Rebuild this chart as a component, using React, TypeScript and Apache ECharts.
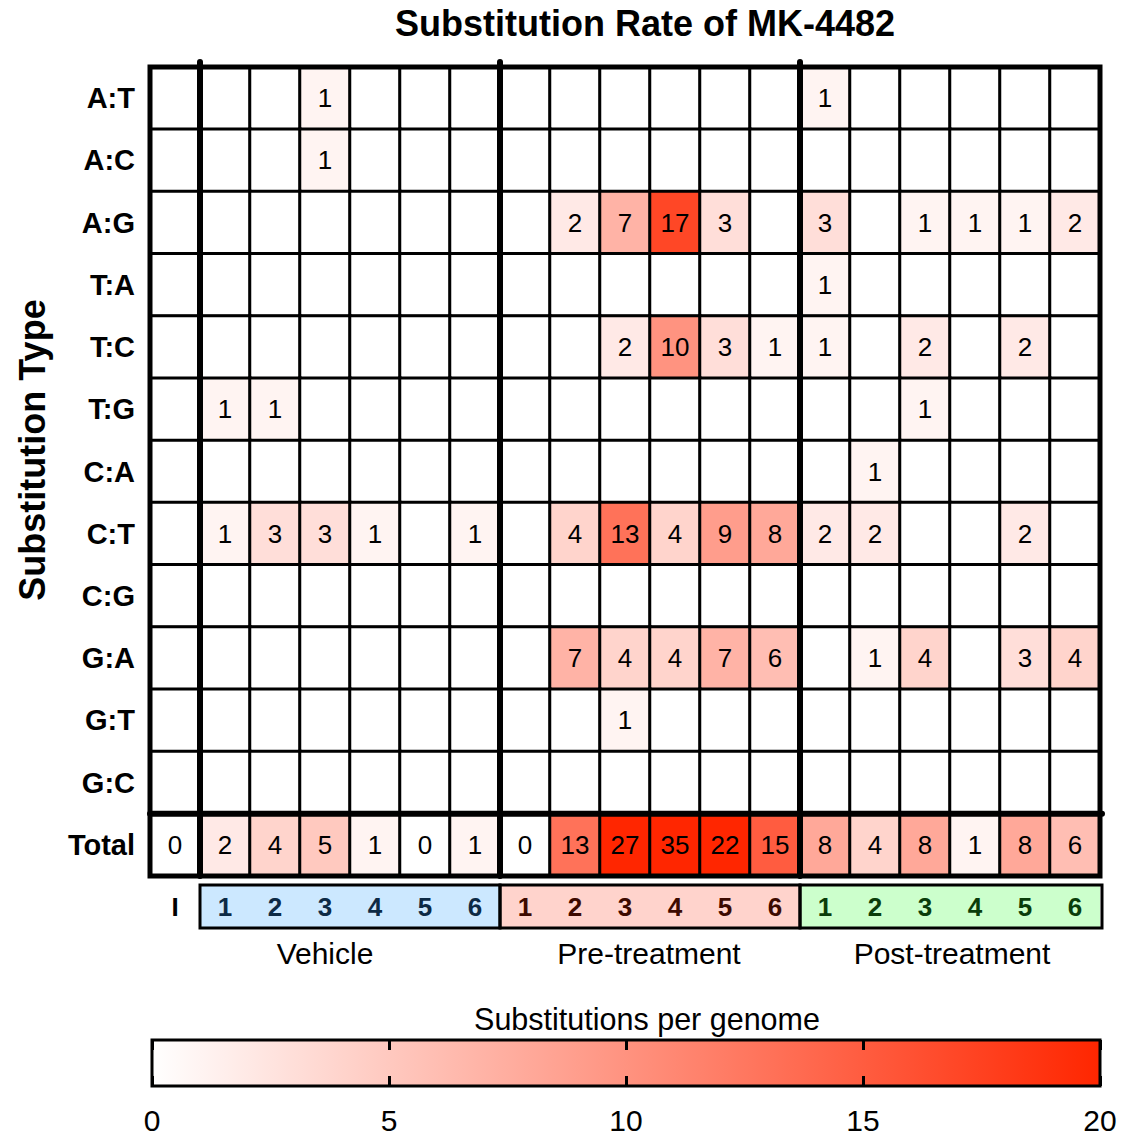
import React, { useEffect, useRef } from "react";
import * as echarts from "echarts";

const COLUMNS = ["I", "V1", "V2", "V3", "V4", "V5", "V6", "P1", "P2", "P3", "P4", "P5", "P6", "O1", "O2", "O3", "O4", "O5", "O6"];
const COLUMN_LABELS = ["I", "1", "2", "3", "4", "5", "6", "1", "2", "3", "4", "5", "6", "1", "2", "3", "4", "5", "6"];
const ROWS = ["A:T", "A:C", "A:G", "T:A", "T:C", "T:G", "C:A", "C:T", "C:G", "G:A", "G:T", "G:C", "Total"];

const AT = [0, 0, 0, 1, 0, 0, 0, 0, 0, 0, 0, 0, 0, 1, 0, 0, 0, 0, 0];
const AC = [0, 0, 0, 1, 0, 0, 0, 0, 0, 0, 0, 0, 0, 0, 0, 0, 0, 0, 0];
const AG = [0, 0, 0, 0, 0, 0, 0, 0, 2, 7, 17, 3, 0, 3, 0, 1, 1, 1, 2];
const TA = [0, 0, 0, 0, 0, 0, 0, 0, 0, 0, 0, 0, 0, 1, 0, 0, 0, 0, 0];
const TC = [0, 0, 0, 0, 0, 0, 0, 0, 0, 2, 10, 3, 1, 1, 0, 2, 0, 2, 0];
const TG = [0, 1, 1, 0, 0, 0, 0, 0, 0, 0, 0, 0, 0, 0, 0, 1, 0, 0, 0];
const CA = [0, 0, 0, 0, 0, 0, 0, 0, 0, 0, 0, 0, 0, 0, 1, 0, 0, 0, 0];
const CT = [0, 1, 3, 3, 1, 0, 1, 0, 4, 13, 4, 9, 8, 2, 2, 0, 0, 2, 0];
const CG = [0, 0, 0, 0, 0, 0, 0, 0, 0, 0, 0, 0, 0, 0, 0, 0, 0, 0, 0];
const GA = [0, 0, 0, 0, 0, 0, 0, 0, 7, 4, 4, 7, 6, 0, 1, 4, 0, 3, 4];
const GT = [0, 0, 0, 0, 0, 0, 0, 0, 0, 1, 0, 0, 0, 0, 0, 0, 0, 0, 0];
const GC = [0, 0, 0, 0, 0, 0, 0, 0, 0, 0, 0, 0, 0, 0, 0, 0, 0, 0, 0];
const TOTAL = [0, 2, 4, 5, 1, 0, 1, 0, 13, 27, 35, 22, 15, 8, 4, 8, 1, 8, 6];

const MATRIX = [AT, AC, AG, TA, TC, TG, CA, CT, CG, GA, GT, GC, TOTAL];

const GROUPS = ["Vehicle", "Pre-treatment", "Post-treatment"];
const GROUP_BG = ["#cce8ff", "#ffd3cc", "#ccffcc"];
const GROUP_FG = ["#0d2a45", "#3d0a00", "#0a3d0a"];

const CB_MIN = 0;
const CB_MAX = 20;
const CB_TITLE = "Substitutions per genome";
const TITLE = "Substitution Rate of MK-4482";
const Y_NAME = "Substitution Type";

const FONT = "'Liberation Sans', Arial, Helvetica, sans-serif";

// layout
const W = 1122;
const H = 1138;
const GL = 150;
const GT_ = 67;
const GW = 950;
const GH = 809;
const colW = GW / COLUMNS.length;
const rowH = GH / ROWS.length;
const GROUP_TEXT_X = [325, 649, 952];

export default function App() {
  const ref = useRef<HTMLDivElement>(null);
  useEffect(() => {
    document.body.style.margin = "0";
    if (!ref.current) return;
    const chart = echarts.init(ref.current, null, { renderer: "svg" });

    const heatData: any[] = [];
    MATRIX.forEach((row, ri) => {
      row.forEach((v, ci) => heatData.push([ci, ri, v]));
    });

    const labelBars = COLUMN_LABELS.map((lab, i) => {
      const g = i === 0 ? -1 : Math.floor((i - 1) / 6);
      return {
        value: 1,
        name: lab,
        itemStyle: { color: g < 0 ? "rgba(0,0,0,0)" : GROUP_BG[g] },
        label: { color: g < 0 ? "#000" : GROUP_FG[g] },
      };
    });

    const sepY = GT_ + 12 * rowH;
    const graphic: any[] = [];
    [1, 7, 13].forEach((c) => {
      const x = GL + c * colW;
      graphic.push({
        type: "line",
        z: 100,
        shape: { x1: x, y1: GT_ - 5, x2: x, y2: GT_ + GH },
        style: { stroke: "#000", lineWidth: 6, lineCap: "round" },
      });
    });
    graphic.push({
      type: "line",
      z: 100,
      shape: { x1: GL, y1: sepY, x2: GL + GW + 2, y2: sepY },
      style: { stroke: "#000", lineWidth: 6, lineCap: "round" },
    });
    graphic.push({
      type: "rect",
      z: 100,
      shape: { x: GL, y: GT_, width: GW, height: GH },
      style: { fill: "none", stroke: "#000", lineWidth: 5 },
    });
    const lrTop = 885;
    const lrH = 43;
    GROUPS.forEach((g, gi) => {
      const x0 = GL + (1 + gi * 6) * colW;
      graphic.push({
        type: "rect",
        z: 100,
        shape: { x: x0, y: lrTop, width: 6 * colW + (gi === 2 ? 2 : 0), height: lrH },
        style: { fill: "none", stroke: "#000", lineWidth: 3 },
      });
      graphic.push({
        type: "text",
        z: 100,
        x: GROUP_TEXT_X[gi],
        y: 953,
        style: {
          text: g,
          fontSize: 30,
          fontFamily: FONT,
          fill: "#000",
          align: "center",
          verticalAlign: "middle",
        },
      });
    });
    graphic.push({
      type: "text",
      z: 100,
      x: 645,
      y: 23,
      style: {
        text: TITLE,
        fontSize: 36,
        fontWeight: "bold",
        fontFamily: FONT,
        fill: "#000",
        align: "center",
        verticalAlign: "middle",
      },
    });
    graphic.push({
      type: "text",
      z: 100,
      x: 32,
      y: 450,
      rotation: Math.PI / 2,
      style: {
        text: Y_NAME,
        fontSize: 36,
        fontWeight: "bold",
        fontFamily: FONT,
        fill: "#000",
        align: "center",
        verticalAlign: "middle",
      },
    });
    graphic.push({
      type: "text",
      z: 100,
      x: 647,
      y: 1019,
      style: {
        text: CB_TITLE,
        fontSize: 30.5,
        fontFamily: FONT,
        fill: "#000",
        align: "center",
        verticalAlign: "middle",
      },
    });
    graphic.push({
      type: "rect",
      z: 100,
      shape: { x: 152, y: 1040, width: 948, height: 46 },
      style: { fill: "none", stroke: "#000", lineWidth: 3 },
    });

    const tickAxis = (pos: string, showLabel: boolean) => ({
      type: "value",
      gridIndex: 2,
      min: CB_MIN,
      max: CB_MAX,
      interval: 5,
      position: pos,
      z: 20,
      axisLine: { show: false },
      axisTick: { show: true, inside: true, length: 10, lineStyle: { color: "#000", width: 3 } },
      axisLabel: { show: showLabel, fontSize: 30, lineHeight: 30, color: "#000", margin: 19, fontFamily: FONT },
      splitLine: { show: false },
    });

    const option: any = {
      animation: false,
      backgroundColor: "#fff",
      textStyle: { fontFamily: FONT },
      grid: [
        { left: GL, top: GT_, width: GW, height: GH, containLabel: false },
        { left: GL, top: lrTop, width: GW, height: lrH },
        { left: 152, top: 1040, width: 948, height: 46 },
      ],
      xAxis: [
        {
          type: "category",
          gridIndex: 0,
          data: COLUMNS,
          axisLine: { show: false },
          axisTick: { show: false },
          axisLabel: { show: false },
          splitLine: { show: false },
        },
        {
          type: "category",
          gridIndex: 1,
          data: COLUMN_LABELS,
          axisLine: { show: false },
          axisTick: { show: false },
          axisLabel: { show: false },
        },
        tickAxis("bottom", true),
        tickAxis("top", false),
      ],
      yAxis: [
        {
          type: "category",
          gridIndex: 0,
          data: ROWS,
          inverse: true,
          axisLine: { show: false },
          axisTick: { show: false },
          axisLabel: { fontSize: 29, fontWeight: "bold", color: "#000", margin: 15, fontFamily: FONT },
        },
        {
          type: "value",
          gridIndex: 1,
          min: 0,
          max: 1,
          show: false,
        },
        {
          type: "category",
          gridIndex: 2,
          data: ["cb"],
          show: false,
        },
      ],
      visualMap: {
        show: false,
        seriesIndex: 0,
        min: CB_MIN,
        max: CB_MAX,
        dimension: 2,
        inRange: { color: ["#ffffff", "#ff2600"] },
      },
      series: [
        {
          type: "heatmap",
          xAxisIndex: 0,
          yAxisIndex: 0,
          data: heatData,
          itemStyle: { borderColor: "#000", borderWidth: 3 },
          emphasis: { disabled: true },
          label: {
            show: true,
            fontSize: 26,
            color: "#000",
            fontFamily: FONT,
            formatter: (p: any) => {
              const v = p.value[2];
              if (p.value[1] === ROWS.length - 1) return String(v);
              return v > 0 ? String(v) : "";
            },
          },
        },
        {
          type: "bar",
          xAxisIndex: 1,
          yAxisIndex: 1,
          data: labelBars,
          barWidth: "100%",
          barCategoryGap: "0%",
          silent: true,
          label: {
            show: true,
            position: "inside",
            fontSize: 26,
            fontWeight: "bold",
            fontFamily: FONT,
            formatter: (p: any) => p.name,
          },
        },
        {
          type: "bar",
          xAxisIndex: 2,
          yAxisIndex: 2,
          data: [CB_MAX],
          barWidth: "100%",
          silent: true,
          z: 1,
          itemStyle: {
            color: new echarts.graphic.LinearGradient(0, 0, 1, 0, [
              { offset: 0, color: "#ffffff" },
              { offset: 1, color: "#ff2600" },
            ]),
          },
        },
      ],
      graphic,
    };
    chart.setOption(option);
    return () => chart.dispose();
  }, []);
  return <div ref={ref} style={{ width: W, height: H }} />;
}
